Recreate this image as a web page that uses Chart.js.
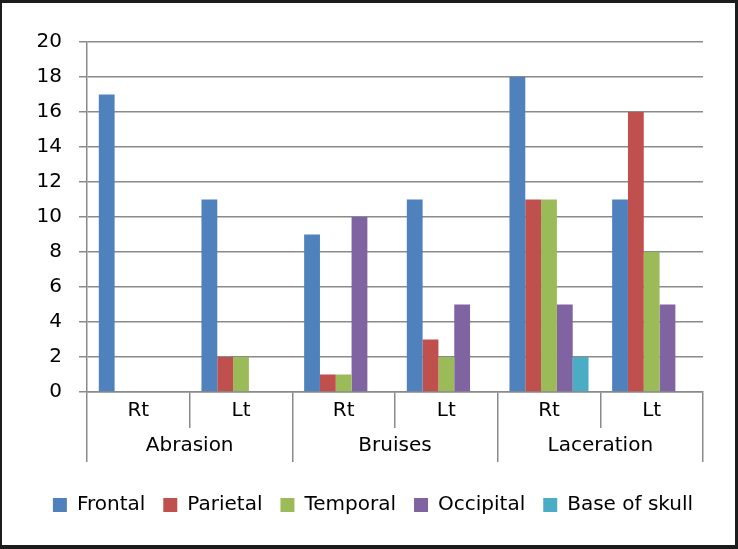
<!DOCTYPE html>
<html>
<head>
<meta charset="utf-8">
<script src="https://cdn.jsdelivr.net/npm/chart.js@4.4.1/dist/chart.umd.min.js"></script>
<style>
  html, body { margin: 0; padding: 0; background: #ffffff; }
  #wrap {
    position: relative; width: 738px; height: 549px; box-sizing: border-box;
    border-style: solid; border-color: #1c1c1c;
    border-width: 3px 3px 4px 2px; background: #ffffff;
  }
  canvas { display: block; }
</style>
</head>
<body>
<div id="wrap"><canvas id="c" width="733" height="542"></canvas></div>
<script>
const categories = ['Rt', 'Lt', 'Rt', 'Lt', 'Rt', 'Lt'];
const groups = ['Abrasion', 'Bruises', 'Laceration'];
const seriesNames = ['Frontal', 'Parietal', 'Temporal', 'Occipital', 'Base of skull'];
const frontal   = [17, 11, 9, 11, 18, 11];
const parietal  = [0, 2, 1, 3, 11, 16];
const temporal  = [0, 2, 1, 2, 11, 8];
const occipital = [0, 0, 10, 5, 5, 5];
const baseSkull = [0, 0, 0, 0, 2, 0];
const yMin = 0, yMax = 20, yStep = 2;

const colors = ['#4F81BD', '#C0504D', '#9BBB59', '#8064A2', '#4BACC6'];
const values = [frontal, parietal, temporal, occipital, baseSkull];
const gridColor = '#8a8a8a';
const FONT = 'DejaVu Sans';
const TEXT = '#000000';

new Chart(document.getElementById('c'), {
  type: 'bar',
  data: {
    labels: categories,
    datasets: seriesNames.map((n, i) => ({
      label: n,
      data: values[i],
      backgroundColor: colors[i],
      borderWidth: 0,
      categoryPercentage: 0.77,
      barPercentage: 1.0
    }))
  },
  options: {
    responsive: false,
    animation: false,
    layout: { padding: { left: 9, top: 39, right: 0, bottom: 20 } },
    plugins: {
      tooltip: { enabled: false },
      legend: {
        position: 'bottom',
        labels: {
          boxWidth: 14, boxHeight: 14, padding: 18,
          color: TEXT,
          font: { family: FONT, size: 20 }
        }
      }
    },
    scales: {
      y: {
        min: yMin, max: yMax,
        ticks: { stepSize: yStep, padding: 17, color: TEXT, font: { family: FONT, size: 20 } },
        grid: { color: gridColor, lineWidth: 1.5, tickLength: 8, drawTicks: true },
        border: { display: true, color: gridColor, width: 1.5 },
        afterFit: (s) => { s.width = 76; }
      },
      yRight: {
        type: 'linear',
        position: 'right',
        display: true,
        ticks: { display: false },
        grid: { display: false },
        border: { display: false },
        afterFit: (s) => { s.width = 32; }
      },
      x: {
        type: 'category',
        position: 'bottom',
        weight: 0,
        offset: true,
        ticks: { autoSkip: false, maxRotation: 0, minRotation: 0, padding: -29.5, color: TEXT, font: { family: FONT, size: 20 } },
        grid: { display: true, offset: true, drawOnChartArea: false, drawTicks: true, tickLength: 36, color: gridColor, lineWidth: 1.5 },
        border: { display: true, color: gridColor, width: 1.5 },
        afterFit: (s) => { s.height = 36; }
      },
      x2: {
        type: 'category',
        axis: 'x',
        position: 'bottom',
        weight: 1,
        labels: groups,
        offset: true,
        ticks: { autoSkip: false, maxRotation: 0, minRotation: 0, padding: -28.5, color: TEXT, font: { family: FONT, size: 20 } },
        grid: { display: true, offset: true, drawOnChartArea: false, drawTicks: true, tickLength: 34, color: gridColor, lineWidth: 1.5 },
        border: { display: false },
        afterFit: (s) => { s.height = 49; }
      }
    }
  }
});
</script>
</body>
</html>
